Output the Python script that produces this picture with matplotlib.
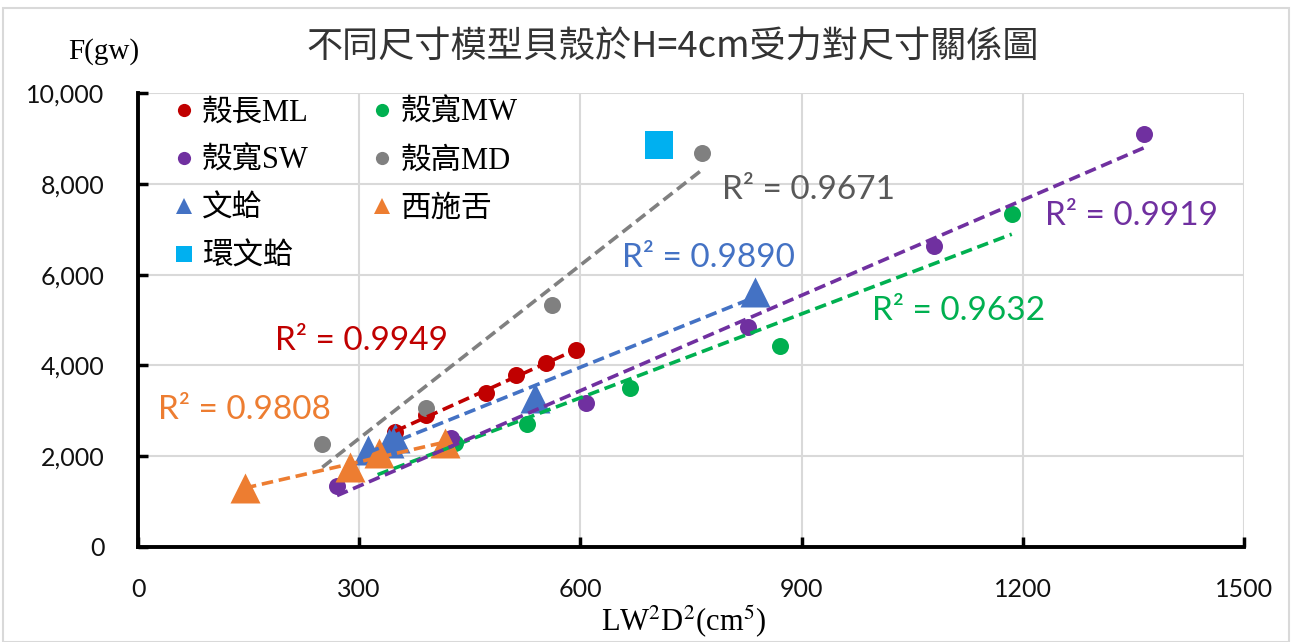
import numpy as np
import matplotlib
matplotlib.use("Agg")
import matplotlib.pyplot as plt
from matplotlib.lines import Line2D
from matplotlib.patches import Rectangle

# ---- data: LW^2D^2 (cm^5) vs F (gw) ----
ml_x = [349, 390, 472, 513, 553, 594]
ml_y = [2526, 2907, 3392, 3789, 4053, 4339]

mw_x = [325, 430, 527, 667, 871, 1185]
mw_y = [1950, 2300, 2716, 3494, 4427, 7328]

sw_x = [270, 425, 608, 827, 1080, 1365]
sw_y = [1344, 2394, 3164, 4853, 6637, 9090]

md_x = [250, 390, 562, 765]
md_y = [2262, 3055, 5330, 8678]

wenge_x = [312, 340, 349, 538, 837]
wenge_y = [2137, 2300, 2394, 3275, 5620]

xishi_x = [145, 288, 327, 416]
xishi_y = [1300, 1769, 2064, 2284]

huan_x = [707]
huan_y = [8846]

r2_labels = ["R² = 0.9949", "R² = 0.9632", "R² = 0.9919",
             "R² = 0.9671", "R² = 0.9890", "R² = 0.9808"]

x_ticks = [0, 300, 600, 900, 1200, 1500]
y_ticks = [0, 2000, 4000, 6000, 8000, 10000]

title = "不同尺寸模型貝殼於H=4cm受力對尺寸關係圖"

# ---- styles ----
C_RED, C_GREEN, C_PURPLE = "#C00000", "#00B050", "#7030A0"
C_GRAY, C_BLUE, C_ORANGE, C_CYAN = "#808080", "#4472C4", "#ED7D31", "#00B0F0"

SERIF = ["Liberation Serif", "Noto Sans CJK TC"]
SANS = ["Lato", "Noto Sans CJK TC"]
plt.rcParams["mathtext.fontset"] = "stix"

fig = plt.figure(figsize=(12.92, 6.42), dpi=100)
ax = fig.add_axes([138 / 1292, 1 - 547 / 642, 1106 / 1292, 454 / 642])

fig.patches.append(Rectangle((3 / 1292, 0), 1286 / 1292, 1 - 8 / 642,
                             transform=fig.transFigure, fill=False,
                             edgecolor="#d9d9d9", linewidth=1.5, zorder=0))

series = [
    (ml_x, ml_y, C_RED, "o", 150),
    (mw_x, mw_y, C_GREEN, "o", 150),
    (sw_x, sw_y, C_PURPLE, "o", 150),
    (md_x, md_y, C_GRAY, "o", 150),
    (wenge_x, wenge_y, C_BLUE, "^", 466),
    (xishi_x, xishi_y, C_ORANGE, "^", 466),
]

for xs, ys, col, mk, sz in series:
    ax.scatter(xs, ys, s=sz, marker=mk, color=col, linewidths=0, zorder=3)
ax.scatter(huan_x, huan_y, s=407, marker="s", color=C_CYAN, linewidths=0, zorder=3)

# linear trendlines over each series' range
for xs, ys, col, mk, sz in series:
    k, b = np.polyfit(xs, ys, 1)
    xx = np.array([min(xs), max(xs)])
    ax.plot(xx, k * xx + b, color=col, lw=2.6, linestyle=(0, (3.2, 1.6)),
            zorder=4, solid_capstyle="butt")

# R² annotations (axes fraction)
label_pos = [(0.2025, 0.4537), (0.7423, 0.5198), (0.8987, 0.7291),
             (0.6058, 0.7863), (0.5154, 0.6366), (0.0958, 0.3018)]
label_col = [C_RED, C_GREEN, C_PURPLE, "#595959", C_BLUE, C_ORANGE]
for txt, (px, py), col in zip(r2_labels, label_pos, label_col):
    ax.text(px, py, txt, transform=ax.transAxes, ha="center", va="center",
            color=col, fontsize=24, family=SANS, zorder=5)

ax.set_xlim(0, 1500)
ax.set_ylim(0, 10000)
ax.set_xticks(x_ticks)
ax.set_yticks(y_ticks)
ax.set_yticklabels([f"{v:,}" for v in y_ticks])
ax.grid(True, color="#d9d9d9", linewidth=1.5, zorder=0)
ax.set_axisbelow(True)
for side in ("top", "right"):
    ax.spines[side].set_visible(False)
for side in ("left", "bottom"):
    ax.spines[side].set_linewidth(2.8)
    ax.spines[side].set_color("black")
ax.tick_params(direction="in", length=7, width=2.5, color="black",
               labelsize=18, labelcolor="#111111")
for lab in ax.get_xticklabels() + ax.get_yticklabels():
    lab.set_family(SANS)
ax.tick_params(axis="x", pad=22)
ax.tick_params(axis="y", pad=24)

fig.text(673 / 1292, 1 - 48 / 642, title, ha="center", va="center",
         fontsize=26, family=["Noto Sans CJK TC"], color="#333333")
fig.text(104 / 1292, 1 - 52 / 642, "F(gw)", ha="center", va="center",
         fontsize=21, family=SERIF, color="black")
fig.text(684 / 1292, 1 - 622 / 642, r"LW$^2$D$^2$(cm$^5$)", ha="center",
         va="center", fontsize=22, family=SERIF, color="black")

# legend laid out row-wise in two columns
def h(mk, col, ms):
    return Line2D([], [], marker=mk, color=col, linestyle="none",
                  markersize=ms, markeredgewidth=0)

handles = [h("o", C_RED, 9.5), h("o", C_PURPLE, 9.5), h("^", C_BLUE, 12),
           h("s", C_CYAN, 11.5),
           h("o", C_GREEN, 9.5), h("o", C_GRAY, 9.5), h("^", C_ORANGE, 12)]
labels = ["殼長ML", "殼寬SW", "文蛤", "環文蛤", "殼寬MW", "殼高MD", "西施舌"]
ax.legend(handles, labels, ncol=2, loc="upper left",
          bbox_to_anchor=(0.011, 1.035), frameon=False,
          prop={"family": SERIF, "size": 22}, handlelength=0.8,
          handletextpad=0.2, labelspacing=0.62, columnspacing=2.0,
          borderpad=0.2)

fig.savefig("out.png", dpi=100)
